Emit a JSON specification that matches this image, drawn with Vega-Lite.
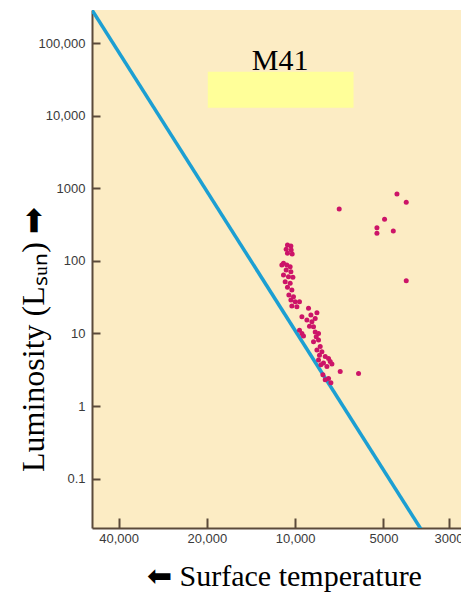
{
  "$schema": "https://vega.github.io/schema/vega-lite/v6.json",
  "autosize": "none",
  "padding": {"left": 92, "top": 10, "right": 0, "bottom": 66},
  "width": 369,
  "height": 518,
  "background": "white",
  "config": {"view": {"fill": "#fcecc4", "stroke": null}},
  "datasets": {
    "box": [{"T": 19860, "T2": 6324, "L": 12850, "L2": 40250}],
    "ms": [{"T": 56234, "L": 659000}, {"T": 3162, "L": 0.0071}],
    "label": [{"T": 11250, "L": 42460, "name": "M41"}],
    "stars": [
      {"T": 10624, "L": 165}, {"T": 10344, "L": 160}, {"T": 10733, "L": 144}, {"T": 10319, "L": 141},
      {"T": 10624, "L": 127}, {"T": 10238, "L": 124}, {"T": 10963, "L": 92.3}, {"T": 11104, "L": 87.5},
      {"T": 10678, "L": 87.5}, {"T": 10401, "L": 82.9}, {"T": 10733, "L": 74.7}, {"T": 10344, "L": 70.8},
      {"T": 10963, "L": 63.7}, {"T": 10541, "L": 60.4}, {"T": 10182, "L": 59.3}, {"T": 10818, "L": 51.5},
      {"T": 10401, "L": 49.0}, {"T": 10624, "L": 43.2}, {"T": 10264, "L": 39.6}, {"T": 10508, "L": 33.8},
      {"T": 10134, "L": 32.0}, {"T": 10344, "L": 28.8}, {"T": 10000, "L": 27.3}, {"T": 10264, "L": 23.8},
      {"T": 9867, "L": 23.3}, {"T": 9667, "L": 27.3}, {"T": 9006, "L": 22.2}, {"T": 8430, "L": 19.3},
      {"T": 8840, "L": 17.9}, {"T": 9487, "L": 17.0}, {"T": 8546, "L": 16.1}, {"T": 9122, "L": 15.3},
      {"T": 8770, "L": 14.5}, {"T": 8937, "L": 12.6}, {"T": 8659, "L": 12.4}, {"T": 9667, "L": 11.1},
      {"T": 9487, "L": 10.0}, {"T": 9369, "L": 9.2}, {"T": 8546, "L": 10.5}, {"T": 8326, "L": 10.0},
      {"T": 8478, "L": 9.0}, {"T": 8326, "L": 8.1}, {"T": 8659, "L": 7.7}, {"T": 8217, "L": 6.6},
      {"T": 8430, "L": 5.9}, {"T": 8108, "L": 5.6}, {"T": 8262, "L": 5.0}, {"T": 7900, "L": 4.8},
      {"T": 7697, "L": 4.5}, {"T": 8326, "L": 4.3}, {"T": 7596, "L": 4.1}, {"T": 8007, "L": 3.9},
      {"T": 8172, "L": 3.7}, {"T": 7495, "L": 3.8}, {"T": 7795, "L": 3.5}, {"T": 8045, "L": 2.7},
      {"T": 7697, "L": 2.4}, {"T": 7900, "L": 2.3}, {"T": 7555, "L": 2.1}, {"T": 7022, "L": 3.0},
      {"T": 6081, "L": 2.8}, {"T": 7077, "L": 517}, {"T": 4497, "L": 832}, {"T": 4181, "L": 640},
      {"T": 4957, "L": 373}, {"T": 5263, "L": 286}, {"T": 5263, "L": 239}, {"T": 4629, "L": 257},
      {"T": 4181, "L": 53.2}
    ]
  },
  "encoding": {
    "x": {
      "field": "T", "type": "quantitative",
      "scale": {"type": "log", "domain": [2720, 49300], "reverse": true, "nice": false, "zero": false},
      "axis": {
        "orient": "bottom",
        "values": [40000, 20000, 10000, 5000, 3000],
        "labelExpr": "datum.value >= 10000 ? format(datum.value, ',') : toString(datum.value)",
        "grid": false,
        "labelFlush": false,
        "labelOverlap": false,
        "labelFont": "Liberation Sans",
        "labelFontSize": 13,
        "labelColor": "#3a3a3a",
        "labelPadding": 14,
        "tickSize": -10,
        "tickWidth": 2,
        "tickColor": "#5b4a3a",
        "domainColor": "#5b4a3a",
        "domainWidth": 2,
        "title": "⬅ Surface temperature",
        "titleFont": "Liberation Serif",
        "titleFontSize": 30,
        "titleFontWeight": "normal",
        "titleColor": "#000000",
        "titleAlign": "center",
        "titleBaseline": "alphabetic",
        "titleX": 192,
        "titleY": 57
      }
    },
    "y": {
      "field": "L", "type": "quantitative",
      "scale": {"type": "log", "domain": [0.0209, 284800], "nice": false, "zero": false},
      "axis": {
        "orient": "left",
        "values": [0.1, 1, 10, 100, 1000, 10000, 100000],
        "labelExpr": "datum.value >= 10000 ? format(datum.value, ',') : toString(datum.value)",
        "grid": false,
        "labelOverlap": false,
        "labelFlush": false,
        "labelFont": "Liberation Sans",
        "labelFontSize": 13,
        "labelColor": "#3a3a3a",
        "labelPadding": 15,
        "tickSize": -8,
        "tickWidth": 2,
        "tickColor": "#5b4a3a",
        "domainColor": "#5b4a3a",
        "domainWidth": 2,
        "title": "Luminosity (Lₛᵤₙ) ➡",
        "titleFont": "Liberation Serif",
        "titleFontSize": 32,
        "titleFontWeight": "normal",
        "titleColor": "#000000",
        "titleAngle": -90,
        "titleAlign": "center",
        "titleBaseline": "alphabetic",
        "titleX": -49,
        "titleY": 329
      }
    }
  },
  "layer": [
    {
      "data": {"name": "box"},
      "mark": {"type": "rect", "color": "#ffff99"},
      "encoding": {"x2": {"field": "T2"}, "y2": {"field": "L2"}}
    },
    {
      "data": {"name": "ms"},
      "mark": {"type": "line", "color": "#1c9fd2", "strokeWidth": 3.5, "clip": true},
      "encoding": {}
    },
    {
      "data": {"name": "stars"},
      "mark": {"type": "circle", "size": 25, "color": "#cc1468", "opacity": 1}
    },
    {
      "data": {"name": "label"},
      "mark": {"type": "text", "font": "Liberation Serif", "fontSize": 30, "align": "center", "baseline": "alphabetic", "color": "#000000"},
      "encoding": {"text": {"field": "name"}}
    }
  ]
}
